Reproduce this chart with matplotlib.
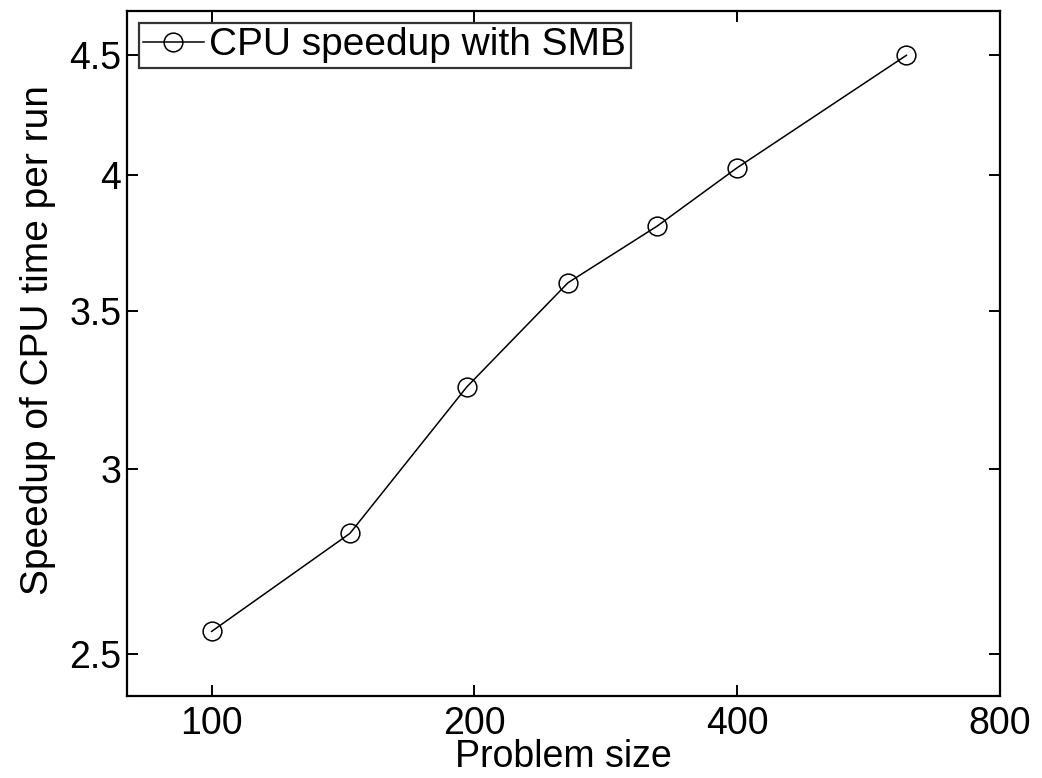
import numpy as np
import matplotlib
matplotlib.use("Agg")
from matplotlib import pyplot as plt
from matplotlib.ticker import FixedLocator, FixedFormatter, NullLocator

# problem sizes (10^2 .. 25^2) and measured speedup
problem_size = [100, 144, 196, 256, 324, 400, 625]
speedup = [2.557, 2.815, 3.25, 3.60, 3.806, 4.03, 4.50]

x_ticks = [100, 200, 400, 800]
x_labels = ["100", "200", "400", "800"]
y_ticks = [2.5, 3, 3.5, 4, 4.5]
y_labels = ["2.5", "3", "3.5", "4", "4.5"]

plt.rcParams['font.family'] = ['Liberation Sans', 'DejaVu Sans']

fig = plt.figure(figsize=(10.42, 7.78), dpi=100)
ax = fig.add_axes([0.1219, 0.1054, 0.8378, 0.8805])

ax.plot(problem_size, speedup, color='black', linewidth=1.1,
        marker='o', markersize=13.5, markerfacecolor='none',
        markeredgecolor='black', markeredgewidth=1.1,
        label='CPU speedup with SMB')

ax.set_xscale('log')
ax.set_yscale('log')
ax.set_xlim(80, 800)
ax.set_ylim(2.4, 4.7)

ax.xaxis.set_major_locator(FixedLocator(x_ticks))
ax.xaxis.set_major_formatter(FixedFormatter(x_labels))
ax.xaxis.set_minor_locator(NullLocator())
ax.yaxis.set_major_locator(FixedLocator(y_ticks))
ax.yaxis.set_major_formatter(FixedFormatter(y_labels))
ax.yaxis.set_minor_locator(NullLocator())

ax.tick_params(direction='in', length=8, width=1.4, top=True, right=True,
               labelsize=27)
ax.tick_params(axis='x', pad=7)
ax.tick_params(axis='y', pad=4)
for s in ax.spines.values():
    s.set_linewidth(1.6)

ax.set_xlabel('Problem size', fontsize=27, labelpad=-2)
ax.set_ylabel('Speedup of CPU time per run', fontsize=28)
ax.yaxis.set_label_coords(-0.081, 0.52)

leg = ax.legend(loc='upper left', fontsize=28, frameon=True, fancybox=False,
                edgecolor='black', handlelength=1.55, handletextpad=0.15,
                borderpad=0.12, borderaxespad=0.3, markerscale=1.0)
leg.get_frame().set_linewidth(1.6)

fig.savefig('out.png', dpi=100)
